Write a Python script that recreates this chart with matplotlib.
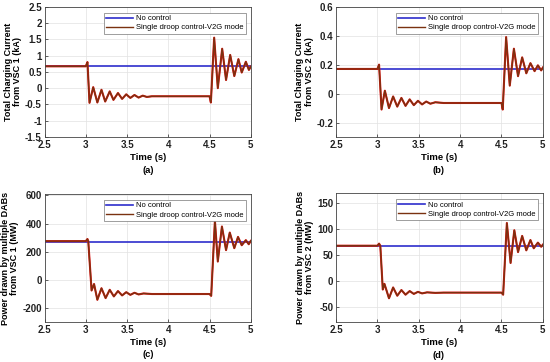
import matplotlib
matplotlib.use("Agg")
import matplotlib.pyplot as plt
import numpy as np

plt.rcParams['font.family'] = ['Liberation Sans', 'DejaVu Sans']

# time axis limits and the "No control" reference levels
t_span = [2.5, 5.0]
nocontrol_a = [0.67, 0.67]
nocontrol_b = [0.17, 0.17]
nocontrol_c = [270, 270]
nocontrol_d = [68, 68]

t_a = [2.5, 3.0, 3.02, 3.045, 3.09, 3.14, 3.19, 3.235, 3.29, 3.335, 3.39, 3.44, 3.49, 3.54,
       3.59, 3.64, 3.69, 3.74, 3.8, 4.5, 4.516, 4.556, 4.60, 4.653, 4.70, 4.75, 4.80, 4.85,
       4.89, 4.94, 4.977, 5.0]
droop_a = [0.67, 0.67, 0.80, -0.45, 0.03, -0.44, -0.05, -0.41, -0.10, -0.36, -0.15, -0.33, -0.19, -0.30,
           -0.21, -0.29, -0.23, -0.27, -0.25, -0.25, -0.44, 1.55, 0.0, 1.21, 0.25, 1.02, 0.37, 0.89,
           0.48, 0.81, 0.56, 0.66]

t_b = [2.5, 3.0, 3.02, 3.05, 3.09, 3.14, 3.19, 3.24, 3.29, 3.34, 3.39, 3.44, 3.49, 3.54,
       3.59, 3.64, 3.7, 3.8, 4.5, 4.515, 4.556, 4.60, 4.65, 4.70, 4.75, 4.80, 4.85, 4.90,
       4.94, 4.98, 5.0]
droop_b = [0.17, 0.17, 0.20, -0.11, 0.02, -0.10, -0.02, -0.09, -0.03, -0.085, -0.04, -0.08, -0.05, -0.075,
           -0.055, -0.07, -0.06, -0.065, -0.065, -0.11, 0.39, 0.055, 0.31, 0.12, 0.25, 0.14, 0.21, 0.155,
           0.195, 0.16, 0.18]

t_c = [2.5, 3.0, 3.02, 3.03, 3.07, 3.10, 3.14, 3.19, 3.24, 3.29, 3.34, 3.39, 3.44, 3.49,
       3.54, 3.59, 3.64, 3.7, 3.8, 4.5, 4.52, 4.565, 4.60, 4.65, 4.70, 4.745, 4.80, 4.845,
       4.89, 4.94, 4.975, 5.0]
droop_c = [275, 275, 290, 275, -76, -30, -142, -60, -130, -71, -118, -80, -111, -88,
           -107, -92, -104, -97, -101, -101, -114, 419, 130, 379, 211, 336, 225, 305,
           246, 282, 253, 277]

t_d = [2.5, 3.0, 3.02, 3.035, 3.065, 3.085, 3.14, 3.19, 3.24, 3.29, 3.34, 3.39, 3.44, 3.49,
       3.54, 3.6, 3.7, 3.8, 4.5, 4.52, 4.565, 4.61, 4.655, 4.70, 4.75, 4.80, 4.85, 4.89,
       4.94, 4.98, 5.0]
droop_d = [68, 68, 72, 68, -17, -6, -34, -13, -29, -18, -27, -20, -25.5, -21.5,
           -24.5, -22.5, -23.5, -23, -23, -27, 112, 34.5, 98, 55.6, 87, 59, 79, 63,
           74, 66, 70]

panels = [
    ([0.081, 0.6215, 0.375, 0.36], t_a, droop_a, nocontrol_a, (-1.5, 2.5), np.arange(-1.5, 2.51, 0.5),
     'Total Charging Current\nfrom VSC 1 (kA)', '(a)', (0.269, 0.530)),
    ([0.611, 0.6215, 0.376, 0.36], t_b, droop_b, nocontrol_b, (-0.3, 0.6), [-0.2, 0, 0.2, 0.4, 0.6],
     'Total Charging Current\nfrom VSC 2 (kA)', '(b)', (0.798, 0.530)),
    ([0.081, 0.1105, 0.375, 0.3535], t_c, droop_c, nocontrol_c, (-300, 610), [-200, 0, 200, 400, 600],
     'Power drawn by multiple DABs\nfrom VSC 1 (MW)', '(c)', (0.269, 0.022)),
    ([0.611, 0.1105, 0.376, 0.356], t_d, droop_d, nocontrol_d, (-80, 170), [-50, 0, 50, 100, 150],
     'Power drawn by multiple DABs\nfrom VSC 2 (MW)', '(d)', (0.798, 0.018)),
]

fig = plt.figure(figsize=(5.5, 3.62), dpi=100)

for rect, t, droop, nocon, ylim, yticks, ylab, tag, tagpos in panels:
    ax = fig.add_axes(rect)
    ax.plot(t_span, nocon, color='#2d2dcc', lw=1.2, label='No control')
    ax.plot(t, droop, color='#e01010', lw=1.5)
    ax.plot(t, droop, color='#7a3210', lw=1.0, label='Single droop control-V2G mode')
    ax.set_xlim(t_span)
    ax.set_ylim(ylim)
    ax.set_xticks([2.5, 3, 3.5, 4, 4.5, 5])
    ax.set_xticklabels(['2.5', '3', '3.5', '4', '4.5', '5'])
    ax.set_yticks(yticks)
    ax.set_yticklabels([('%g' % v) for v in yticks])
    ax.grid(True, color='#e2e2e2', lw=0.5)
    ax.set_axisbelow(True)
    ax.tick_params(direction='in', length=2, width=0.5, labelsize=7, pad=2, colors='#222222')
    for lbl in ax.get_xticklabels() + ax.get_yticklabels():
        lbl.set_fontweight('bold')
    for sp in ax.spines.values():
        sp.set_color('#444444')
        sp.set_linewidth(0.6)
    ax.set_xlabel('Time (s)', fontsize=6.8, fontweight='bold', labelpad=2)
    ax.set_ylabel(ylab, fontsize=6.5, fontweight='bold', labelpad=2, linespacing=1.1)
    leg = ax.legend(loc='upper right', bbox_to_anchor=(0.976, 0.955), fontsize=5.5,
                    handlelength=3.5, handletextpad=0.4, borderpad=0.3, labelspacing=0.25,
                    fancybox=False, framealpha=1, edgecolor='#777777', borderaxespad=0)
    leg.get_frame().set_linewidth(0.5)
    fig.text(tagpos[0], tagpos[1], tag, ha='center', va='center', fontsize=6.8, fontweight='bold')

fig.savefig('out.png', dpi=100)
